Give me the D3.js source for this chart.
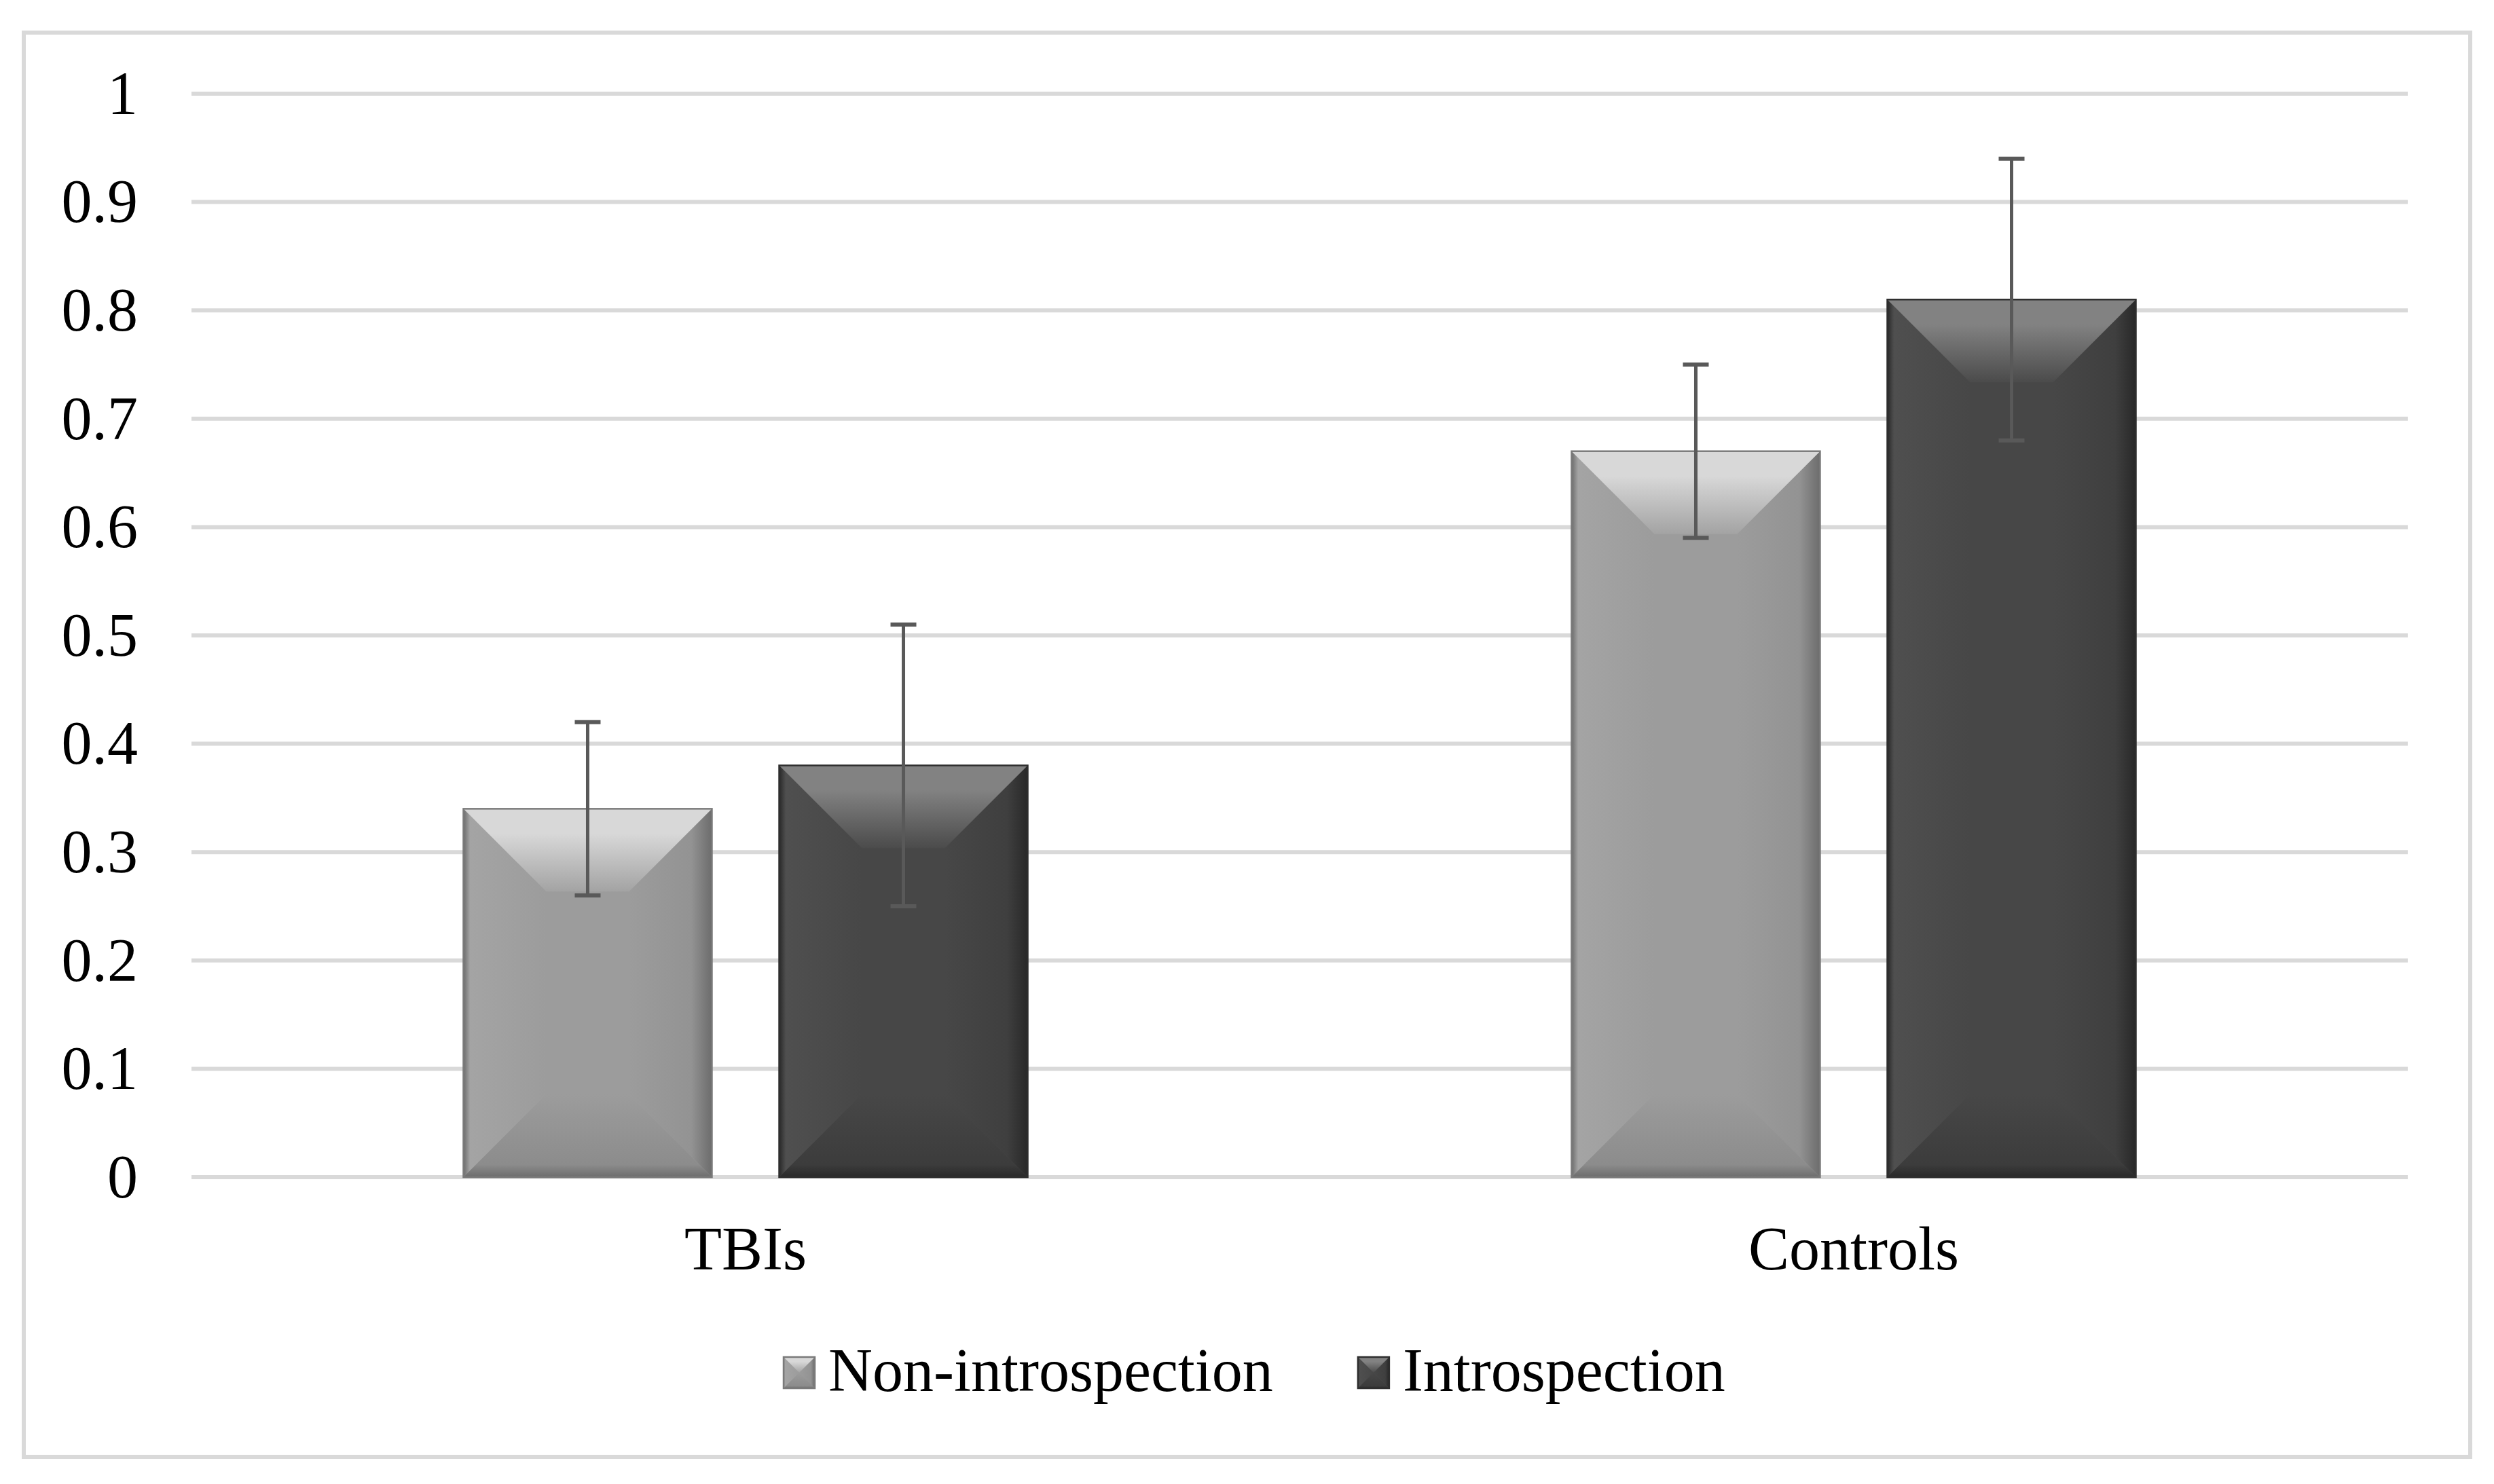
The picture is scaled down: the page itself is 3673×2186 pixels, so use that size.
<!DOCTYPE html>
<meta charset="utf-8">
<head>
    <title>Introspection bar chart</title>
    <script src="https://d3js.org/d3.v7.min.js"></script>
    <style>
        body { margin: 0; background: #fff; }
        text { font-family: "Liberation Serif", "Times New Roman", serif; fill: #000; }
    </style>
</head>

<body>
    <div id="svg-container"></div>
</body>

<script>

const width = 3673;
const height = 2186;

// data
const groups = ["TBIs", "Controls"];
const series = ["Non-introspection", "Introspection"];
const means = [[0.34, 0.38], [0.67, 0.81]];
const errLow = [[0.26, 0.25], [0.59, 0.68]];
const errHigh = [[0.42, 0.51], [0.75, 0.94]];
const yTicks = [0, 0.1, 0.2, 0.3, 0.4, 0.5, 0.6, 0.7, 0.8, 0.9, 1];

// styles for each series: base, top bevel start, left side, right side, right edge, bottom
const palette = {
    "Non-introspection": { base: "#9c9c9c", topHi: "#d8d8d8", topLo: "#a3a3a3", left: "#a4a4a4", right: "#939393", edge: "#6c6c6c", bottom: "#8c8c8c", stroke: "#7a7a7a" },
    "Introspection": { base: "#474747", topHi: "#828282", topLo: "#4b4b4b", left: "#4f4f4f", right: "#3f3f3f", edge: "#282828", bottom: "#3c3c3c", stroke: "#2e2e2e" }
};

const plotLeft = 282, plotRight = 3546, plotTop = 138, plotBottom = 1734;

const svg = d3.select("#svg-container")
              .append("svg")
                .attr("width", width)
                .attr("height", height);

svg.append("rect")
    .attr("width", width).attr("height", height)
    .attr("fill", "#fff");

// chart frame
svg.append("rect")
    .attr("x", 35).attr("y", 48)
    .attr("width", 3603).attr("height", 2098)
    .attr("fill", "none")
    .attr("stroke", "#d9d9d9")
    .attr("stroke-width", 6);

const y = d3.scaleLinear().domain([0, 1]).range([plotBottom, plotTop]);
const x0 = d3.scaleBand().domain(groups).range([plotLeft, plotRight]).padding(0);
const bw = x0.bandwidth();
const x1 = d3.scaleBand().domain(series)
             .range([bw * 0.2454, bw * 0.7546])
             .paddingInner(0.213);

// gradients
const defs = svg.append("defs");
series.forEach(function(s, i) {
    const p = palette[s];
    const gTop = defs.append("linearGradient").attr("id", "top" + i)
                     .attr("x1", 0).attr("y1", 0).attr("x2", 0).attr("y2", 1);
    gTop.append("stop").attr("offset", 0).attr("stop-color", p.topHi);
    gTop.append("stop").attr("offset", 0.3).attr("stop-color", p.topHi);
    gTop.append("stop").attr("offset", 1).attr("stop-color", p.topLo);

    const gRight = defs.append("linearGradient").attr("id", "right" + i)
                       .attr("x1", 0).attr("y1", 0).attr("x2", 1).attr("y2", 0);
    gRight.append("stop").attr("offset", 0).attr("stop-color", p.base);
    gRight.append("stop").attr("offset", 0.75).attr("stop-color", p.right);
    gRight.append("stop").attr("offset", 1).attr("stop-color", p.edge);

    const gLeft = defs.append("linearGradient").attr("id", "left" + i)
                      .attr("x1", 0).attr("y1", 0).attr("x2", 1).attr("y2", 0);
    gLeft.append("stop").attr("offset", 0).attr("stop-color", p.edge);
    gLeft.append("stop").attr("offset", 0.08).attr("stop-color", p.left);
    gLeft.append("stop").attr("offset", 1).attr("stop-color", p.base);

    const gBot = defs.append("linearGradient").attr("id", "bot" + i)
                     .attr("x1", 0).attr("y1", 0).attr("x2", 0).attr("y2", 1);
    gBot.append("stop").attr("offset", 0).attr("stop-color", p.base);
    gBot.append("stop").attr("offset", 0.85).attr("stop-color", p.bottom);
    gBot.append("stop").attr("offset", 1).attr("stop-color", p.edge);
});

// gridlines
svg.append("g")
    .selectAll("line")
    .data(yTicks).enter()
    .append("line")
        .attr("x1", plotLeft).attr("x2", plotRight)
        .attr("y1", function(d) { return y(d); })
        .attr("y2", function(d) { return y(d); })
        .attr("stroke", "#d9d9d9")
        .attr("stroke-width", 6);

// y tick labels
svg.append("g")
    .selectAll("text")
    .data(yTicks).enter()
    .append("text")
        .attr("x", 203)
        .attr("y", function(d) { return y(d); })
        .attr("dy", "0.33em")
        .attr("text-anchor", "end")
        .style("font-size", "90px")
        .text(function(d) { return d3.format("")(d); });

// bevelled box, drawn as four trapezoids around a centre rect
function bevelBox(g, x, yTop, w, h, i, depth) {
    const d = Math.min(depth, w / 2, h / 2);
    const x2 = x + w, y2 = yTop + h;
    const pt = function(a) { return a.map(function(p) { return p.join(","); }).join(" "); };
    g.append("rect").attr("x", x).attr("y", yTop).attr("width", w).attr("height", h)
        .attr("fill", palette[series[i]].base);
    g.append("polygon")
        .attr("points", pt([[x, yTop + d], [x + d, yTop + d], [x + d, y2 - d], [x, y2 - d]]))
        .attr("fill", "url(#left" + i + ")");
    g.append("polygon")
        .attr("points", pt([[x, yTop], [x + d, yTop + d], [x + d, y2 - d], [x, y2]]))
        .attr("fill", "url(#left" + i + ")");
    g.append("polygon")
        .attr("points", pt([[x2, yTop], [x2 - d, yTop + d], [x2 - d, y2 - d], [x2, y2]]))
        .attr("fill", "url(#right" + i + ")");
    g.append("polygon")
        .attr("points", pt([[x, y2], [x + d, y2 - d], [x2 - d, y2 - d], [x2, y2]]))
        .attr("fill", "url(#bot" + i + ")");
    g.append("polygon")
        .attr("points", pt([[x, yTop], [x2, yTop], [x2 - d, yTop + d], [x + d, yTop + d]]))
        .attr("fill", "url(#top" + i + ")");
    g.append("rect").attr("x", x).attr("y", yTop).attr("width", w).attr("height", h)
        .attr("fill", "none")
        .attr("stroke", palette[series[i]].stroke)
        .attr("stroke-width", 2.5);
}

// bars
const barLayer = svg.append("g");
groups.forEach(function(grp, gi) {
    series.forEach(function(s, si) {
        const bx = x0(grp) + x1(s);
        const top = y(means[gi][si]);
        bevelBox(barLayer.append("g"), bx, top, x1.bandwidth(), y(0) - top, si, 122);
    });
});

// error bars
const errLayer = svg.append("g")
                    .attr("stroke", "#595959");
groups.forEach(function(grp, gi) {
    series.forEach(function(s, si) {
        const cx = x0(grp) + x1(s) + x1.bandwidth() / 2;
        errLayer.append("line")
            .attr("x1", cx).attr("x2", cx)
            .attr("y1", y(errLow[gi][si])).attr("y2", y(errHigh[gi][si]))
            .attr("stroke-width", 5);
        [errLow[gi][si], errHigh[gi][si]].forEach(function(v) {
            errLayer.append("line")
                .attr("x1", cx - 19).attr("x2", cx + 19)
                .attr("y1", y(v)).attr("y2", y(v))
                .attr("stroke-width", 6);
        });
    });
});

// category labels
svg.append("g")
    .selectAll("text")
    .data(groups).enter()
    .append("text")
        .attr("x", function(d) { return x0(d) + bw / 2; })
        .attr("y", 1870)
        .attr("text-anchor", "middle")
        .style("font-size", "90px")
        .text(function(d) { return d; });

// legend
const legend = svg.append("g");
let lx = 1154;
series.forEach(function(s, i) {
    bevelBox(legend.append("g"), lx, 1999, 46, 46, i, 23);
    const t = legend.append("text")
        .attr("x", lx + 66)
        .attr("y", 2049)
        .style("font-size", "90px")
        .text(s);
    lx = lx + 66 + t.node().getComputedTextLength() + 125;
});

</script>
